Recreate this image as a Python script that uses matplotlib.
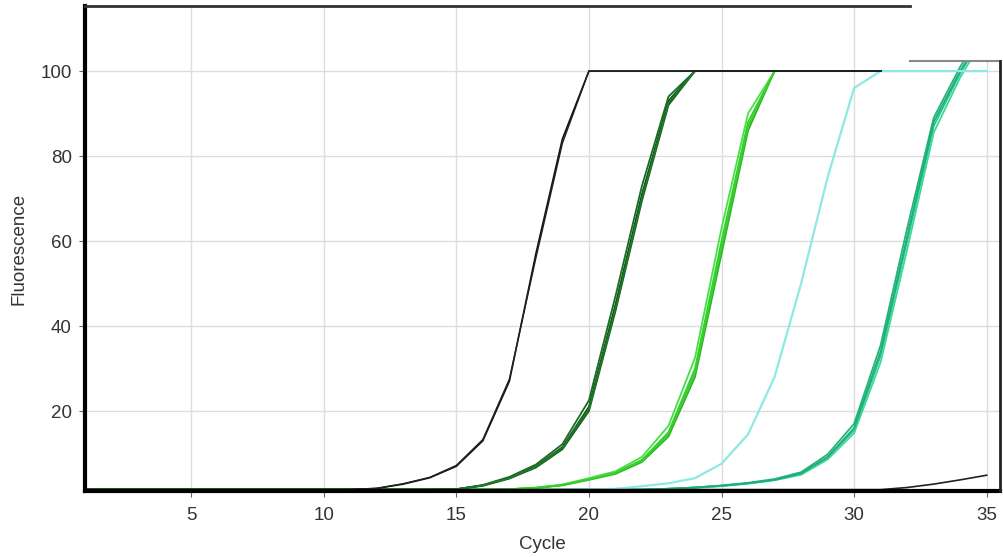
import numpy as np
import matplotlib
matplotlib.use('Agg')
import matplotlib.pyplot as plt
from matplotlib.patches import Rectangle

plt.rcParams['font.family'] = ['Liberation Sans', 'DejaVu Sans']

#cycle numbers
cyc31 = list(range(1, 32))
cyc35 = list(range(1, 36))

#early black sample (cycles 1-31)
blk1 = [1.5]*11 + [1.8, 2.8, 4.3, 7.0, 13.0, 27.0, 57.0, 84.0, 100, 100] + [100]*10
blk2 = [1.5]*11 + [1.8, 2.9, 4.4, 7.2, 13.3, 27.5, 56.0, 83.0, 100, 100] + [100]*10

#dark green replicates (cycles 1-31)
dg1 = [1.5]*14 + [1.6, 2.5, 4.3, 7.0, 11.5, 21.0, 45.0, 71.0, 93.0, 100] + [100]*7
dg2 = [1.5]*14 + [1.6, 2.6, 4.5, 7.4, 12.2, 22.5, 47.0, 73.0, 94.0, 100] + [100]*7
dg3 = [1.5]*14 + [1.6, 2.4, 4.1, 6.7, 11.0, 20.0, 43.5, 69.5, 92.0, 100] + [100]*7
dg4 = [1.5]*14 + [1.6, 2.5, 4.2, 6.9, 11.3, 20.5, 44.0, 70.0, 92.5, 100] + [100]*7

#bright green replicates (cycles 1-31)
bg1 = [1.5]*16 + [1.6, 1.9, 2.6, 4.0, 5.5, 8.5, 15.0, 30.0, 60.0, 88.0, 100] + [100]*4
bg2 = [1.5]*16 + [1.6, 2.0, 2.7, 4.2, 5.8, 9.2, 16.5, 32.5, 63.0, 90.0, 100] + [100]*4
bg3 = [1.5]*16 + [1.6, 1.9, 2.5, 3.8, 5.2, 8.0, 14.0, 28.0, 57.0, 86.0, 100] + [100]*4
bg4 = [1.5]*16 + [1.6, 1.9, 2.6, 3.9, 5.4, 8.3, 14.6, 29.0, 58.5, 87.0, 100] + [100]*4

#cyan sample (cycles 1-35)
cy1 = [1.5]*20 + [1.7, 2.3, 3.0, 4.2, 7.6, 14.5, 28.0, 50.0, 75.0, 96.0, 100] + [100]*4

#teal replicates (cycles 1-35)
tl1 = [1.5]*22 + [1.7, 2.0, 2.4, 3.0, 3.8, 5.2, 9.0, 15.5, 33.0, 60.0, 87.0, 99.5, 110]
tl2 = [1.5]*22 + [1.7, 2.0, 2.5, 3.1, 4.0, 5.6, 9.8, 17.0, 35.5, 63.0, 89.0, 101.0, 111]
tl3 = [1.5]*22 + [1.7, 1.9, 2.3, 2.9, 3.7, 5.0, 8.6, 14.8, 31.5, 58.0, 85.5, 98.5, 109]
tl4 = [1.5]*22 + [1.7, 2.0, 2.4, 3.0, 3.8, 5.3, 9.2, 16.0, 34.0, 61.0, 88.0, 100.0, 110]

#late black sample (cycles 1-35)
blk3 = [1.5]*31 + [2.0, 2.8, 3.8, 4.9]

fig = plt.figure(figsize=(10.04, 5.57), dpi=100)
ax = fig.add_axes([0.0847, 0.1185, 0.9113, 0.8707])

for y, c in zip([tl1, tl2, tl3, tl4], ['#27c98a', '#1fb57a', '#3ad99a', '#22aa77']):
    ax.plot(cyc35, y, color=c, lw=1.3)
ax.plot(cyc35, cy1, color='#8ee8e4', lw=1.6)
for y, c in zip([bg1, bg2, bg3, bg4], ['#2fd12f', '#44e044', '#22b822', '#3fcc2a']):
    ax.plot(cyc31, y, color=c, lw=1.3)
for y, c in zip([dg1, dg2, dg3, dg4], ['#0a4d12', '#1a6b24', '#0f5a1a', '#207a2a']):
    ax.plot(cyc31, y, color=c, lw=1.3)
ax.plot(cyc31, blk1, color='#111111', lw=1.2)
ax.plot(cyc31, blk2, color='#222222', lw=1.0)
ax.plot(cyc35, blk3, color='#222222', lw=1.2)

ax.set_xlim(1.0, 35.5)
ax.set_ylim(1.18, 115.3)
ax.set_xticks([5, 10, 15, 20, 25, 30, 35])
ax.set_yticks([20, 40, 60, 80, 100])
ax.grid(True, color='#dddddd', lw=1)
ax.set_axisbelow(True)
ax.tick_params(direction='out', length=4.5, color='#666666', labelsize=13.5, labelcolor='#333333')
ax.tick_params(axis='x', pad=7)
ax.tick_params(axis='y', pad=5)
ax.set_xlabel('Cycle', fontsize=13.5, color='#333333')
ax.set_ylabel('Fluorescence', fontsize=13.5, color='#333333')
ax.xaxis.set_label_coords(0.5, -0.093)
ax.yaxis.set_label_coords(-0.063, 0.5)

#spines: thick left/bottom, notched top-right like the screenshot
ax.spines['left'].set_linewidth(3)
ax.spines['bottom'].set_linewidth(3)
ax.spines['left'].set_zorder(5)
ax.spines['bottom'].set_zorder(5)
ax.spines['top'].set_visible(False)
ax.spines['right'].set_visible(False)
nx = 0.9016
ny = 0.8866
ax.add_patch(Rectangle((nx, ny), 0.2, 0.2, transform=ax.transAxes, facecolor='white',
                       edgecolor='none', clip_on=False, zorder=6))
ax.plot([0, nx], [1, 1], transform=ax.transAxes, color='#333333', lw=2, clip_on=False, zorder=7)
ax.plot([nx, 1], [ny, ny], transform=ax.transAxes, color='#888888', lw=1.5, clip_on=False, zorder=7)
ax.plot([1, 1], [0, ny], transform=ax.transAxes, color='#222222', lw=2, clip_on=False, zorder=7)

plt.savefig('out.png', dpi=100)
